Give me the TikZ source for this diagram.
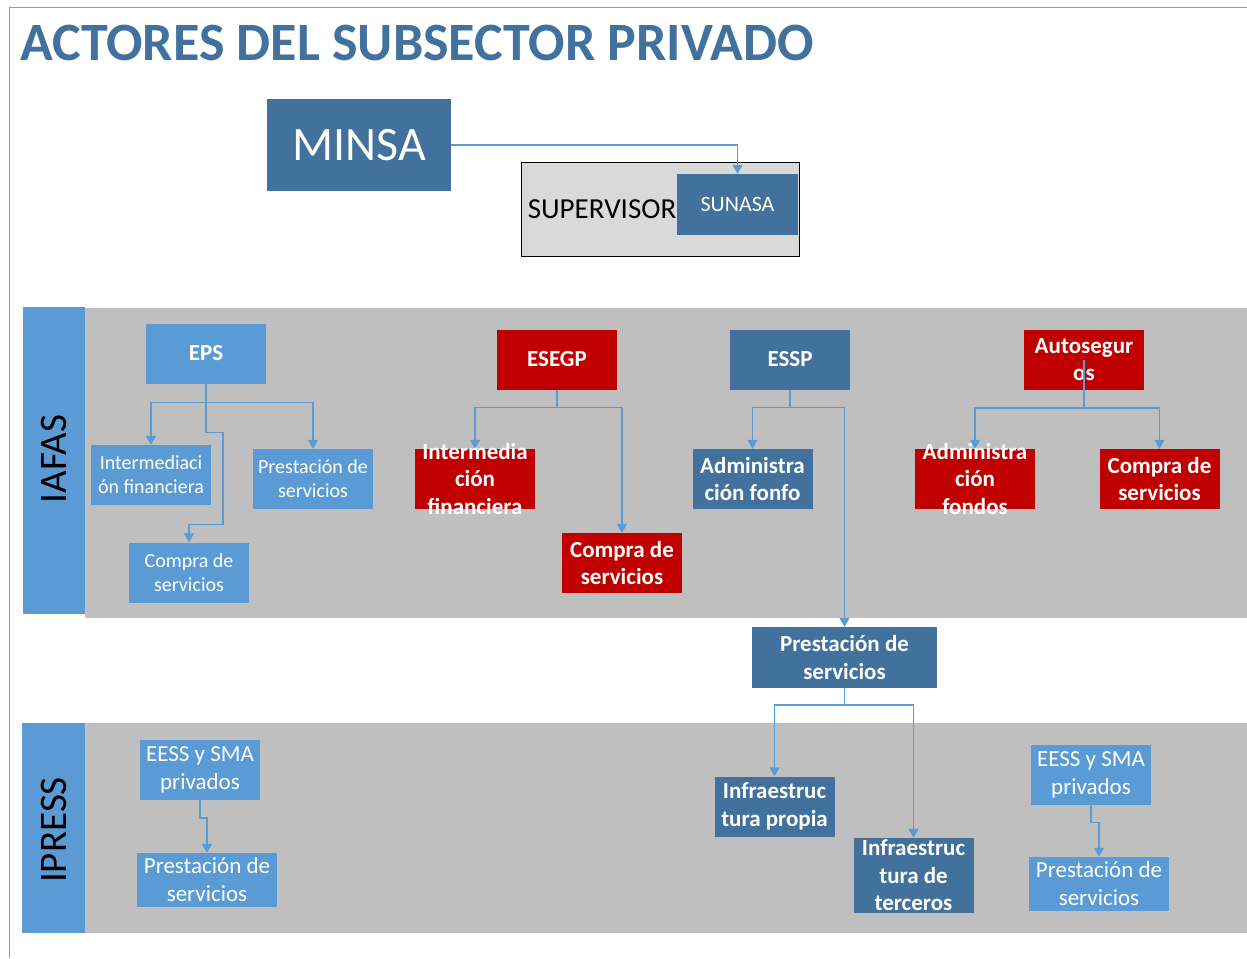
\documentclass[tikz,border=0pt]{standalone}
\usepackage{fontspec}
\setmainfont{Carlito}
\usetikzlibrary{arrows.meta}
\definecolor{lblue}{RGB}{91,155,213}
\definecolor{dblue}{RGB}{65,113,156}
\definecolor{dred}{RGB}{192,0,0}
\definecolor{panelgray}{RGB}{191,191,191}
\definecolor{supgray}{RGB}{217,217,217}
\definecolor{framecol}{RGB}{127,159,196}
\begin{document}
\begin{tikzpicture}[x=1pt,y=-1pt,
  box/.style={minimum width=120pt,minimum height=60pt,inner sep=1pt,align=center,text=white},
  lightbox/.style={box,fill=lblue,font=\fontsize{20}{24}\selectfont},
  lightbig/.style={box,fill=lblue,font=\fontsize{23}{28}\selectfont},
  darkbox/.style={box,fill=dblue,font=\bfseries\fontsize{23}{27.5}\selectfont},
  redbox/.style={box,fill=dred,font=\bfseries\fontsize{23}{27.5}\selectfont},
  overtext/.style={text=white,align=center,inner sep=0pt,font=\bfseries\fontsize{23}{27.5}\selectfont},
  bar/.style={fill=lblue},
  panel/.style={fill=panelgray},
  side/.style={rotate=90,font=\fontsize{39}{42}\selectfont},
  arr/.style={draw=lblue,line width=1.5pt,-{Triangle[width=10pt,length=9pt]}}]
\useasboundingbox (0,0) rectangle (1247,958);
\draw[framecol,line width=0.8pt] (9,958) -- (9,7) -- (1247,7);
\node[anchor=base west,inner sep=0pt,text=dblue,font=\bfseries\fontsize{54}{60}\selectfont] (title) at (20,61) {ACTORES DEL SUBSECTOR PRIVADO};
\node[fill=dblue,text=white,minimum width=184pt,minimum height=92pt,font=\fontsize{48}{56}\selectfont] (minsa) at (359,145) {MINSA};
\node[draw=black,fill=supgray,line width=0.8pt,minimum width=278pt,minimum height=94pt] (superbox) at (660,209) {};
\node[anchor=west,inner sep=0pt,font=\fontsize{29}{32}\selectfont] (supervisor) at ([xshift=7pt]superbox.west) {SUPERVISOR};
\node[fill=dblue,text=white,minimum width=121pt,minimum height=61pt,font=\fontsize{22}{25}\selectfont] (sunasa) at (737.5,204.5) {SUNASA};
\fill[panel] (85,308) rectangle (1250,618);
\fill[bar] (23,307) rectangle (85,614);
\node[side] (iafas) at (54,459) {IAFAS};
\fill[panel] (85,723) rectangle (1250,933);
\fill[bar] (22,723) rectangle (85,933);
\node[side] (ipress) at (54,830) {IPRESS};
\node[lightbox,font=\bfseries\fontsize{23}{25}\selectfont] (eps) at (206,353.5) {EPS};
\node[lightbox] (int1) at (151,475) {Intermediaci\\ón financiera};
\node[lightbox] (pre1) at (313,479) {Prestación de\\servicios};
\node[lightbox] (comp1) at (189,572.5) {Compra de\\servicios};
\node[redbox] (esegp) at (557,359.5) {ESEGP};
\node[redbox] (int2) at (475,479) {};
\node[redbox] (comp2) at (622,563) {Compra de\\servicios};
\node[darkbox] (essp) at (790,359.5) {ESSP};
\node[darkbox] (adm1) at (752.5,479) {Administra\\ción fonfo};
\node[darkbox,minimum width=185pt,minimum height=61pt] (prest) at (844.5,657.5) {Prestación de\\servicios};
\node[redbox] (auto) at (1084,359.5) {Autosegur\\os};
\node[redbox] (adm2) at (975,479) {};
\node[redbox] (comp3) at (1159.5,479) {Compra de\\servicios};
\node[darkbox] (infp) at (774.5,806.5) {Infraestruc\\tura propia};
\node[darkbox,minimum height=75pt] (inft) at (913.5,875.5) {Infraestruc\\tura de\\terceros};
\node[lightbig] (eess1) at (200,770) {EESS y SMA\\privados};
\node[lightbig,minimum width=140pt,minimum height=54pt] (prest1) at (207,880) {Prestación de\\servicios};
\node[lightbig] (eess2) at (1091,774.5) {EESS y SMA\\privados};
\node[lightbig,minimum width=140pt,minimum height=54pt] (prest2) at (1099,884) {Prestación de\\servicios};
\draw[arr] (minsa.east) -| (sunasa.north);
\draw[arr] (eps.south) -- ++(0,19) -| (int1.north);
\draw[arr] (eps.south) -- ++(0,19) -| (pre1.north);
\draw[arr] (eps.south) -- ++(0,49) -- ++(17,0) -- ++(0,92) -| (comp1.north);
\draw[arr] (esegp.south) -- ++(0,18) -| (int2.north);
\draw[arr] (esegp.south) -- ++(0,18) -| (comp2.north);
\draw[arr] (essp.south) -- ++(0,18) -| (adm1.north);
\draw[arr] (essp.south) -- ++(0,18) -| (prest.north);
\draw[arr] (auto.center) -- ++(0,48.5) -| (adm2.north);
\draw[arr] (auto.center) -- ++(0,48.5) -| (comp3.north);
\draw[arr] (prest.south) -- ++(0,17) -| (infp.north);
\draw[arr] (prest.south) -- ++(0,17) -| (inft.north);
\draw[arr] (eess1.south) -- ++(0,18) -| (prest1.north);
\draw[arr] (eess2.south) -- ++(0,18) -| (prest2.north);
\node[overtext] (int2text) at (int2) {Intermedia\\ción\\financiera};
\node[overtext] (adm2text) at (adm2) {Administra\\ción\\fondos};
\end{tikzpicture}
\end{document}
